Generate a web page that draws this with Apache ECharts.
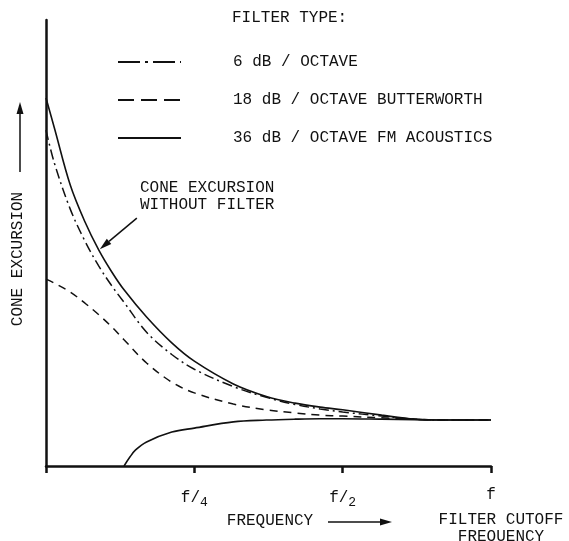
<!DOCTYPE html>
<html>
<head>
<meta charset="utf-8">
<script src="https://cdn.jsdelivr.net/npm/echarts@6/dist/echarts.min.js"></script>
<style>
  html, body { margin: 0; padding: 0; background: #fff; }
  #chart { width: 569px; height: 541px; }
</style>
</head>
<body>
<div id="chart"></div>
<script>
// Frequency (fraction of filter cutoff frequency f), log2 axis from f/8 to f
const freqs = [0.125, 0.13, 0.14, 0.15, 0.16, 0.17, 0.18, 0.2, 0.225, 0.25, 0.3, 0.35, 0.4, 0.45, 0.5, 0.6, 0.7, 0.8, 1.0];
// Cone excursion (relative units 0-100)
const noFilter   = [82.5, 75.8, 63.0, 54.7, 48.4, 43.5, 39.5, 33.4, 27.6, 23.5, 18.4, 15.6, 14.1, 13.2, 12.6, 11.4, 10.5, 10.3, 10.3];
const sixDb      = [75.3, 67.9, 57.6, 50.4, 44.8, 40.4, 36.7, 30.0, 25.0, 21.7, 17.8, 15.4, 13.8, 12.8, 12.1, 11.2, 10.5, 10.3, 10.3];
const eighteenDb = [41.9, 41.0, 39.0, 36.5, 33.9, 31.2, 28.3, 23.1, 18.8, 16.4, 13.9, 12.6, 11.9, 11.4, 11.2, 10.8, 10.5, 10.3, 10.3];
const freqsFm    = [0.18, 0.185, 0.19, 0.2, 0.225, 0.25, 0.3, 0.35, 0.4, 0.45, 0.5, 0.6, 0.7, 0.8, 1.0];
const thirtySixDb = [0, 2.0, 3.6, 5.4, 7.6, 8.5, 9.9, 10.3, 10.5, 10.6, 10.6, 10.5, 10.4, 10.3, 10.3];

const seriesNames = ['6 dB / OCTAVE', '18 dB / OCTAVE BUTTERWORTH', '36 dB / OCTAVE FM ACOUSTICS'];
const tickLabels = { 4: '{m|f/}{s|4}', 2: '{m|f/}{s|2}', 1: '{m|f}', 8: '' };

const FONT = '"Liberation Mono", "DejaVu Sans Mono", monospace';
const INK = '#111111';

function pairs(xs, ys) { return xs.map((x, i) => [x, ys[i]]); }

const chart = echarts.init(document.getElementById('chart'), null, { renderer: 'canvas' });

const option = {
  backgroundColor: '#ffffff',
  animation: false,
  title: {
    text: 'FILTER TYPE:',
    left: 227, top: 5,
    textStyle: { fontFamily: FONT, fontSize: 16, fontWeight: 'normal', color: INK }
  },
  legend: {
    data: [
      { name: seriesNames[0], lineStyle: { type: [22, 5, 3, 5], width: 2 } },
      { name: seriesNames[1], lineStyle: { type: [16, 7], width: 2 } },
      { name: seriesNames[2], lineStyle: { width: 2 } }
    ],
    orient: 'vertical',
    left: 112, top: 49,
    itemWidth: 63, itemHeight: 14, itemGap: 22,
    itemStyle: { color: 'rgba(0,0,0,0)', borderColor: 'rgba(0,0,0,0)', borderWidth: 0, opacity: 0 },
    textStyle: { fontFamily: FONT, fontSize: 16, color: INK, padding: [0, 0, 0, 47] },
    inactiveColor: '#999'
  },
  grid: { left: 46, right: 78, top: 20, bottom: 75 },
  xAxis: {
    type: 'log', logBase: 2, min: 0.125, max: 1,
    axisLine: { lineStyle: { color: INK, width: 2.5 } },
    axisTick: { show: true, length: 7, lineStyle: { color: INK, width: 2.5 } },
    splitLine: { show: false },
    minorTick: { show: false },
    axisLabel: {
      margin: 21, color: INK,
      formatter: v => tickLabels[Math.round(1 / v)] ?? '',
      rich: {
        m: { fontFamily: FONT, fontSize: 16, color: INK },
        s: { fontFamily: FONT, fontSize: 13, color: INK, padding: [9, 0, 0, 0] }
      }
    }
  },
  yAxis: {
    type: 'value', min: 0, max: 100,
    axisLine: { show: true, lineStyle: { color: INK, width: 2.5 } },
    axisTick: { show: false },
    axisLabel: { show: false },
    splitLine: { show: false }
  },
  series: [
    {
      name: 'WITHOUT FILTER', type: 'line', smooth: 0.35, symbol: 'none',
      data: pairs(freqs, noFilter),
      lineStyle: { color: INK, width: 1.6, type: 'solid' }
    },
    {
      name: seriesNames[0], type: 'line', smooth: 0.35, symbol: 'none',
      data: pairs(freqs, sixDb),
      itemStyle: { color: INK },
      lineStyle: { color: INK, width: 1.5, type: [10, 4, 2, 4] }
    },
    {
      name: seriesNames[1], type: 'line', smooth: 0.35, symbol: 'none',
      data: pairs(freqs, eighteenDb),
      itemStyle: { color: INK },
      lineStyle: { color: INK, width: 1.5, type: [8, 6] }
    },
    {
      name: seriesNames[2], type: 'line', smooth: 0.35, symbol: 'none',
      data: pairs(freqsFm, thirtySixDb),
      itemStyle: { color: INK },
      lineStyle: { color: INK, width: 1.6, type: 'solid' }
    }
  ]
};
chart.setOption(option);

// Annotations
const tip = chart.convertToPixel({ gridIndex: 0 }, [freqs[4], noFilter[4]]);
const txt = (t, x, y, align) => ({
  type: 'text',
  style: { text: t, x: x, y: y, fill: INK, font: '16px ' + FONT, align: align || 'center', verticalAlign: 'middle', lineHeight: 17 }
});

function arrow(x1, y1, x2, y2, head) {
  const ang = Math.atan2(y2 - y1, x2 - x1);
  const hl = head || 11, hw = 3.5;
  const bx = x2 - hl * Math.cos(ang), by = y2 - hl * Math.sin(ang);
  const px = -Math.sin(ang) * hw, py = Math.cos(ang) * hw;
  return [
    { type: 'line', shape: { x1: x1, y1: y1, x2: bx, y2: by }, style: { stroke: INK, lineWidth: 1.5 } },
    { type: 'polygon', shape: { points: [[x2, y2], [bx + px, by + py], [bx - px, by - py]] }, style: { fill: INK } }
  ];
}

const graphics = [
  txt('CONE EXCURSION\nWITHOUT FILTER', 140, 196, 'left'),
  ...arrow(tip[0] + 38, tip[1] - 32, tip[0] + 1, tip[1] - 1, 12),
  { type: 'text', x: 18, y: 259, rotation: Math.PI / 2,
    style: { text: 'CONE EXCURSION', fill: INK, font: '16px ' + FONT, align: 'center', verticalAlign: 'middle' } },
  ...arrow(20, 172, 20, 102, 12),
  txt('FREQUENCY', 270, 521),
  ...arrow(328, 522, 392, 522, 12),
  txt('FILTER CUTOFF\nFREQUENCY', 501, 528)
];
chart.setOption({ graphic: graphics });
</script>
</body>
</html>
